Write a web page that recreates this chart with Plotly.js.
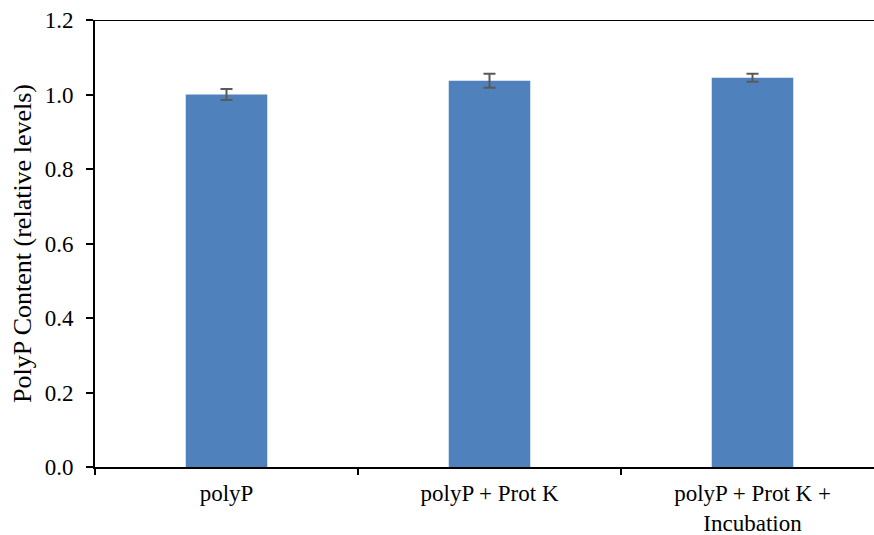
<!DOCTYPE html>
<html>
<head>
<meta charset="utf-8">
<script src="https://cdn.plot.ly/plotly-3.0.1.min.js"></script>
<style>
html,body{margin:0;padding:0;overflow:hidden;background:#fff;}
#chart{width:900px;height:535px;}
</style>
</head>
<body>
<div id="chart"></div>
<script>
const categories = ["polyP", "polyP + Prot K", "polyP + Prot K +<br>Incubation"];
const values = [1.000, 1.037, 1.045];
const errors = [0.015, 0.019, 0.011];
const yTicks = [0, 0.2, 0.4, 0.6, 0.8, 1.0, 1.2];

const font = "Liberation Serif";

const trace = {
  type: 'bar',
  x: categories,
  y: values,
  width: 0.31,
  marker: {color: '#4F81BD'},
  error_y: {type: 'data', array: errors, visible: true, color: '#595959', thickness: 2, width: 6}
};

const layout = {
  width: 900, height: 535,
  margin: {l: 95, r: 16, t: 20, b: 68},
  paper_bgcolor: '#fff', plot_bgcolor: '#fff',
  showlegend: false,
  font: {family: font, color: '#000', size: 23},
  xaxis: {
    type: 'category',
    tickson: 'boundaries',
    ticks: 'outside', ticklen: 6, tickwidth: 2, tickcolor: '#000',
    ticklabelstandoff: 4,
    showline: true, linecolor: '#000', linewidth: 2,
    showgrid: false, zeroline: false,
    tickfont: {family: font, size: 23, color: '#000'},
    range: [-0.5, 2.5]
  },
  yaxis: {
    range: [0, 1.2],
    tickvals: yTicks,
    tickformat: '.1f',
    ticks: 'outside', ticklen: 7, tickwidth: 2, tickcolor: '#000',
    ticklabelstandoff: 8,
    showline: true, linecolor: '#000', linewidth: 2,
    showgrid: false, zeroline: false,
    tickfont: {family: font, size: 23, color: '#000'},
    title: {text: 'PolyP Content (relative levels)', font: {family: font, size: 26, color: '#000'}, standoff: 6}
  },
  shapes: [{type: 'line', xref: 'paper', yref: 'y', x0: 0, x1: 1, y0: 1.2, y1: 1.2, line: {color: '#000', width: 2}}]
};

Plotly.newPlot('chart', [trace], layout, {displayModeBar: false, staticPlot: true});
</script>
</body>
</html>
